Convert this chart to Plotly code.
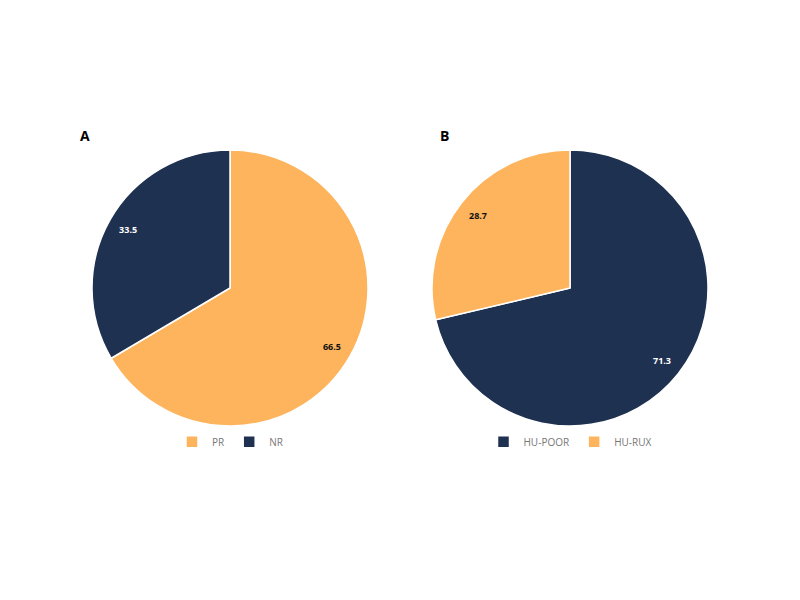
import plotly.graph_objects as go

labels_a = ["PR", "NR"]
values_a = [66.5, 33.5]
labels_b = ["HU-POOR", "HU-RUX"]
values_b = [71.3, 28.7]

ORANGE = "#FDB45C"
NAVY = "#1F3150"

dom_a = dict(x=[0.105, 0.45], y=[0.3033, 0.7633])
dom_b = dict(x=[0.53, 0.875], y=[0.3033, 0.7633])

fig = go.Figure()


def add_pie(labels, values, colors, txtcolors, dom, leg):
    fig.add_trace(go.Pie(
        labels=labels, values=values, sort=False, direction="clockwise", rotation=0,
        marker=dict(colors=colors, line=dict(color="white", width=1.5)),
        textinfo="none", domain=dom, legend=leg, hoverinfo="label+value",
    ))
    # transparent ring carrying the value labels further out
    fig.add_trace(go.Pie(
        labels=labels, values=values, sort=False, direction="clockwise", rotation=0,
        hole=0.7, showlegend=False, hoverinfo="skip",
        marker=dict(colors=["rgba(0,0,0,0)"] * len(values), line=dict(width=0)),
        texttemplate="<b>%{value}</b>", textposition="inside", insidetextorientation="horizontal",
        textfont=dict(size=9, color=txtcolors, family="Open Sans"),
        domain=dom, legend=leg,
    ))


add_pie(labels_a, values_a, [ORANGE, NAVY], ["#111111", "white"], dom_a, "legend")
add_pie(labels_b, values_b, [NAVY, ORANGE], ["white", "#111111"], dom_b, "legend2")

fig.update_layout(
    width=800, height=600,
    margin=dict(l=0, r=0, t=0, b=0),
    paper_bgcolor="white", plot_bgcolor="white",
    font=dict(family="Open Sans", color="#666666"),
    legend=dict(orientation="h", x=0.2775, xanchor="center", y=0.277, yanchor="middle",
                font=dict(size=10, color="#777777"), itemwidth=30),
    legend2=dict(orientation="h", x=0.7025, xanchor="center", y=0.277, yanchor="middle",
                 font=dict(size=10, color="#777777"), itemwidth=30),
    annotations=[
        dict(text="<b>A</b>", x=0.096, y=0.788, xref="paper", yref="paper", showarrow=False,
             xanchor="center", yanchor="middle", font=dict(size=14, color="#000000")),
        dict(text="<b>B</b>", x=0.545, y=0.788, xref="paper", yref="paper", showarrow=False,
             xanchor="center", yanchor="middle", font=dict(size=14, color="#000000")),
    ],
)

fig.write_html("out.html")
